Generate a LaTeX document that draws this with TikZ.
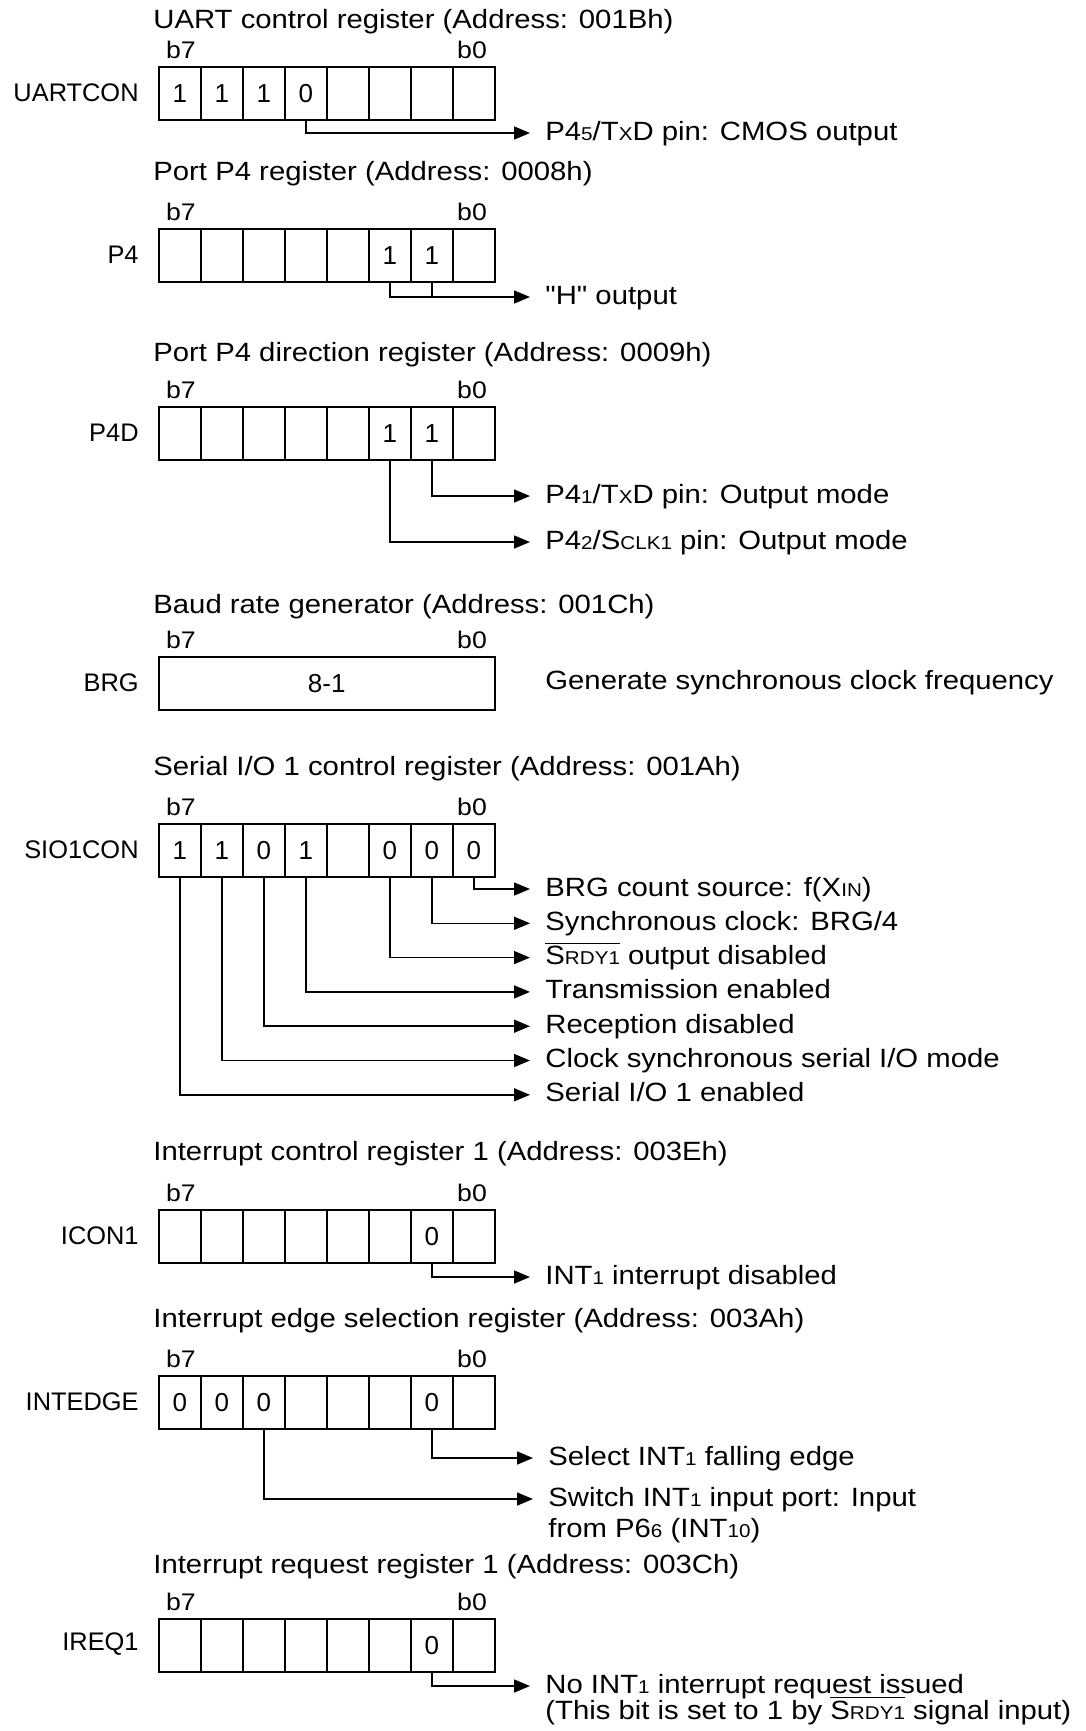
\documentclass[tikz,border=0pt]{standalone}
\usepackage{fontspec}
\setmainfont{Liberation Sans}
\newfontfamily\widefont[FakeStretch=1.11]{Liberation Sans}
\usetikzlibrary{arrows.meta, positioning}
\newcommand\sm[1]{{\fontsize{9.3}{11}\selectfont #1}}
\newcommand\srdy{$\overline{\mbox{S\sm{RDY1}}}$}

\begin{document}
\begin{tikzpicture}[x=0.5pt, y=-0.5pt,
  font=\widefont\fontsize{13.2}{15}\selectfont,
  cell/.style={draw, line width=0.75pt, minimum width=21pt, minimum height=26.5pt,
               inner sep=0pt, anchor=north west, font=\normalfont\fontsize{13}{15}\selectfont},
  regname/.style={anchor=east, inner sep=0pt, font=\normalfont\fontsize{12.7}{15}\selectfont},
  title/.style={anchor=west, inner sep=0pt},
  bitno/.style={anchor=base, inner sep=0pt, font=\widefont\fontsize{12}{14}\selectfont},
  note/.style={anchor=west, inner sep=0pt, text height=0.72em, text depth=0.02em},
  arrow/.style={-{Triangle[length=8pt, width=6.5pt]}, line width=0.75pt, shorten >=7.5pt}]

  \useasboundingbox (0,0) rectangle (1086,1731);

  % UART control register
  \node[title] (t-uart) at (153,22) {UART control register (Address: 001Bh)};
  \foreach \b/\v in {7/1,6/1,5/1,4/0,3/{},2/{},1/{},0/{}}
    \node[cell] (uart\b) at ({158+42*(7-\b)},66) {\v};
  \node[bitno] (uart-b7) at (181,58.5) {b7};
  \node[bitno] (uart-b0) at (472,58.5) {b0};
  \node[regname] (r-uart) at (139,92.5) {UARTCON};
  \node[note] (n-uart) at (545,133) {P4\sm{5}/T\sm{X}D pin: CMOS output};
  \draw[arrow] (uart4.south) |- (n-uart);

  % Port P4 register
  \node[title] (t-p4) at (153,174) {Port P4 register (Address: 0008h)};
  \foreach \b/\v in {7/{},6/{},5/{},4/{},3/{},2/1,1/1,0/{}}
    \node[cell] (p4\b) at ({158+42*(7-\b)},228) {\v};
  \node[bitno] (p4-b7) at (181,220.5) {b7};
  \node[bitno] (p4-b0) at (472,220.5) {b0};
  \node[regname] (r-p4) at (139,254.5) {P4};
  \node[note] (n-p4) at (545,297) {\symbol{34}H\symbol{34} output};
  \draw[arrow] (p42.south) |- (n-p4);
  \draw[line width=0.75pt] (p41.south) -- (p41.south |- n-p4);

  % Port P4 direction register
  \node[title] (t-p4d) at (153,355) {Port P4 direction register (Address: 0009h)};
  \foreach \b/\v in {7/{},6/{},5/{},4/{},3/{},2/1,1/1,0/{}}
    \node[cell] (p4d\b) at ({158+42*(7-\b)},406) {\v};
  \node[bitno] (p4d-b7) at (181,398.5) {b7};
  \node[bitno] (p4d-b0) at (472,398.5) {b0};
  \node[regname] (r-p4d) at (139,432.5) {P4D};
  \node[note] (n-p4d1) at (545,496) {P4\sm{1}/T\sm{X}D pin: Output mode};
  \node[note] (n-p4d2) at (545,542) {P4\sm{2}/S\sm{CLK1} pin: Output mode};
  \draw[arrow] (p4d1.south) |- (n-p4d1);
  \draw[arrow] (p4d2.south) |- (n-p4d2);

  % Baud rate generator
  \node[title] (t-brg) at (153,607) {Baud rate generator (Address: 001Ch)};
  \node[cell, minimum width=168pt] (brg) at (158,656) {8-1};
  \node[bitno] (brg-b7) at (181,648.5) {b7};
  \node[bitno] (brg-b0) at (472,648.5) {b0};
  \node[regname] (r-brg) at (139,682.5) {BRG};
  \node[note] (n-brg) at (545,682.5) {Generate synchronous clock frequency};

  % Serial I/O 1 control register
  \node[title] (t-sio) at (153,769) {Serial I/O 1 control register (Address: 001Ah)};
  \foreach \b/\v in {7/1,6/1,5/0,4/1,3/{},2/0,1/0,0/0}
    \node[cell] (sio\b) at ({158+42*(7-\b)},823) {\v};
  \node[bitno] (sio-b7) at (181,815.5) {b7};
  \node[bitno] (sio-b0) at (472,815.5) {b0};
  \node[regname] (r-sio) at (139,849.5) {SIO1CON};
  \node[note] (n-sio0) at (545,889) {BRG count source: f(X\sm{IN})};
  \node[note] (n-sio1) at (545,923.3) {Synchronous clock: BRG/4};
  \node[note] (n-sio2) at (545,957.6) {\srdy{} output disabled};
  \node[note] (n-sio4) at (545,991.9) {Transmission enabled};
  \node[note] (n-sio5) at (545,1026.2) {Reception disabled};
  \node[note] (n-sio6) at (545,1060.5) {Clock synchronous serial I/O mode};
  \node[note] (n-sio7) at (545,1094.8) {Serial I/O 1 enabled};
  \foreach \b in {0,1,2,4,5,6,7}
    \draw[arrow] (sio\b.south) |- (n-sio\b);

  % Interrupt control register 1
  \node[title] (t-icon) at (153,1154) {Interrupt control register 1 (Address: 003Eh)};
  \foreach \b/\v in {7/{},6/{},5/{},4/{},3/{},2/{},1/0,0/{}}
    \node[cell] (icon\b) at ({158+42*(7-\b)},1209) {\v};
  \node[bitno] (icon-b7) at (181,1201.5) {b7};
  \node[bitno] (icon-b0) at (472,1201.5) {b0};
  \node[regname] (r-icon) at (139,1235.5) {ICON1};
  \node[note] (n-icon) at (545,1277) {INT\sm{1} interrupt disabled};
  \draw[arrow] (icon1.south) |- (n-icon);

  % Interrupt edge selection register
  \node[title] (t-edge) at (153,1321) {Interrupt edge selection register (Address: 003Ah)};
  \foreach \b/\v in {7/0,6/0,5/0,4/{},3/{},2/{},1/0,0/{}}
    \node[cell] (edge\b) at ({158+42*(7-\b)},1375) {\v};
  \node[bitno] (edge-b7) at (181,1367.5) {b7};
  \node[bitno] (edge-b0) at (472,1367.5) {b0};
  \node[regname] (r-edge) at (139,1401.5) {INTEDGE};
  \node[note] (n-edge1) at (548,1458) {Select INT\sm{1} falling edge};
  \node[note] (n-edge5) at (548,1499) {Switch INT\sm{1} input port: Input};
  \node[note] (n-edge5b) at (548,1530) {from P6\sm{6} (INT\sm{10})};
  \draw[arrow] (edge1.south) |- (n-edge1);
  \draw[arrow] (edge5.south) |- (n-edge5);

  % Interrupt request register 1
  \node[title] (t-ireq) at (153,1567) {Interrupt request register 1 (Address: 003Ch)};
  \foreach \b/\v in {7/{},6/{},5/{},4/{},3/{},2/{},1/0,0/{}}
    \node[cell] (ireq\b) at ({158+42*(7-\b)},1618) {\v};
  \node[bitno] (ireq-b7) at (181,1610.5) {b7};
  \node[bitno] (ireq-b0) at (472,1610.5) {b0};
  \node[regname] (r-ireq) at (139,1644.5) {IREQ1};
  \node[note] (n-ireq) at (545,1686) {No INT\sm{1} interrupt request issued};
  \node[note] (n-ireqb) at (545,1712) {(This bit is set to 1 by \srdy{} signal input)};
  \draw[arrow] (ireq1.south) |- (n-ireq);
\end{tikzpicture}
\end{document}
